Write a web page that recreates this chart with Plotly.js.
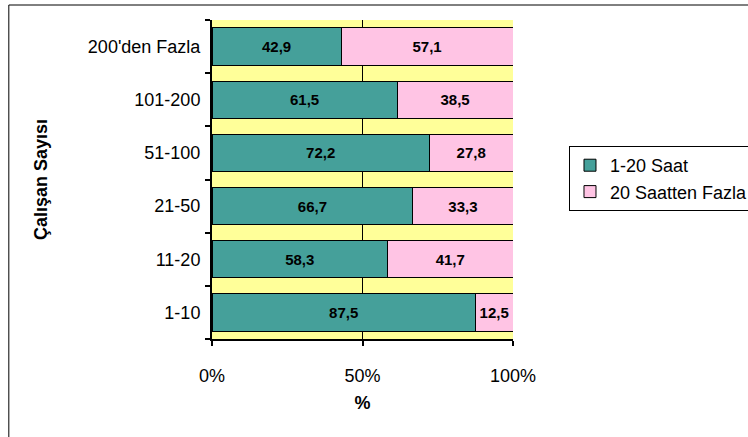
<!DOCTYPE html>
<html><head><meta charset="utf-8">
<script src="https://cdn.plot.ly/plotly-3.0.1.min.js"></script>
<style>body{margin:0;background:#fff}#c{width:748px;height:437px}</style>
</head><body><div id="c"></div>
<script>
const categories = ["1-10", "11-20", "21-50", "51-100", "101-200", "200'den Fazla"];
const saat1_20 = [87.5, 58.3, 66.7, 72.2, 61.5, 42.9];
const saat20plus = [12.5, 41.7, 33.3, 27.8, 38.5, 57.1];
const seriesNames = ["1-20 Saat", "20 Saatten Fazla"];
const xTickVals = [0, 50, 100];
const xTickText = ["0%", "50%", "100%"];

const F = "Arial, 'Liberation Sans', sans-serif";
const traces = [
  {type:'bar', orientation:'h', name:seriesNames[0], y:categories, x:saat1_20,
   marker:{color:'#45a09a', line:{color:'#000', width:1}},
   texttemplate:'%{x:.1f}', textposition:'inside', insidetextanchor:'middle',
   textfont:{family:F, size:15, color:'#000', weight:'bold'}, hoverinfo:'x+y'},
  {type:'bar', orientation:'h', name:seriesNames[1], y:categories, x:saat20plus,
   marker:{color:'#ffc4e4', line:{color:'#000', width:1}},
   texttemplate:'%{x:.1f}', textposition:'inside', insidetextanchor:'middle',
   textfont:{family:F, size:15, color:'#000', weight:'bold'}, hoverinfo:'x+y'}
];
const layout = {
  width:748, height:437, barmode:'stack', bargap:0.295,
  separators:',.',
  paper_bgcolor:'#fff', plot_bgcolor:'#ffff99',
  margin:{l:212, r:235, t:20, b:98, autoexpand:false},
  font:{family:F, size:18, color:'#000'},
  xaxis:{range:[0,100], tickvals:xTickVals, ticktext:xTickText, showgrid:true, gridcolor:'#000', gridwidth:1,
    zeroline:false, showline:true, linecolor:'#000', linewidth:2, ticks:'outside', ticklen:5, tickwidth:2, tickcolor:'#000',
    ticklabelstandoff:14, tickfont:{family:F, size:18}, automargin:false,
    title:{text:'%', font:{family:F, size:18, weight:'bold'}, standoff:12}},
  yaxis:{type:'category', categoryorder:'array', categoryarray:categories, showline:true, linecolor:'#000', linewidth:2,
    ticks:'outside', tickson:'boundaries', ticklen:5, tickwidth:2, tickcolor:'#000', showgrid:false,
    ticklabelstandoff:6, tickfont:{family:F, size:18}, automargin:false,
    title:{text:'Çalışan Sayısı', font:{family:F, size:18, weight:'bold'}, standoff:36}},
  legend:{x:1.186, y:0.605, xanchor:'left', yanchor:'top', bgcolor:'#fff', bordercolor:'#000', borderwidth:1,
    font:{family:F, size:18}, traceorder:'normal', itemwidth:30, tracegroupgap:0},
  shapes:[{type:'rect', xref:'paper', yref:'paper', x0:-0.675, x1:2, y0:-0.5, y1:1.047,
    line:{color:'#000', width:1}, fillcolor:'rgba(0,0,0,0)', layer:'below'}],
  showlegend:true
};
Plotly.newPlot('c', traces, layout, {displayModeBar:false, staticPlot:true});
</script></body></html>
